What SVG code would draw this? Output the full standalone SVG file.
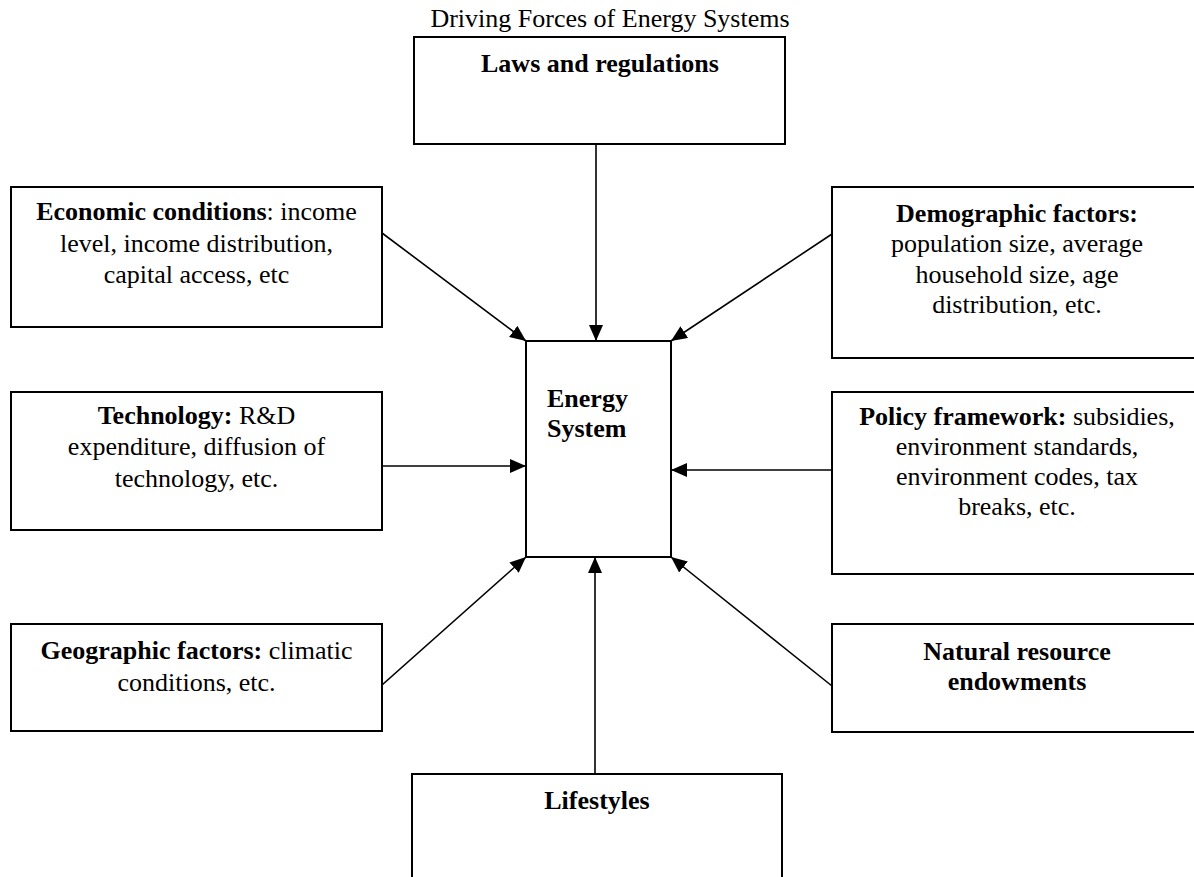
<svg xmlns="http://www.w3.org/2000/svg" width="1194" height="877" viewBox="0 0 1194 877">
<style>
  text { font-family: "Liberation Serif", "Times New Roman", serif; font-size: 26px; fill: #000; }
  .c { text-anchor: middle; }
  .b { font-weight: bold; }
  .box { fill: #fff; stroke: #000; stroke-width: 2; }
  .con { stroke: #000; stroke-width: 1.6; fill: none; marker-end: url(#arr); }
</style>
<defs>
  <marker id="arr" markerUnits="userSpaceOnUse" markerWidth="16" markerHeight="14" refX="16" refY="7" orient="auto">
    <path d="M0,0 L16,7 L0,14 z" fill="#000"/>
  </marker>
</defs>
<rect width="1194" height="877" fill="#fff"/>
<text class="c" x="610" y="27">Driving Forces of Energy Systems</text>

<g id="connectors">
  <line class="con" x1="596" y1="144" x2="596" y2="341"/>
  <line class="con" x1="382" y1="233" x2="526" y2="341"/>
  <line class="con" x1="832" y1="234" x2="671" y2="341"/>
  <line class="con" x1="382" y1="466" x2="526" y2="466"/>
  <line class="con" x1="832" y1="470" x2="671" y2="470"/>
  <line class="con" x1="382" y1="685" x2="526" y2="557"/>
  <line class="con" x1="832" y1="686" x2="671" y2="557"/>
  <line class="con" x1="595" y1="774" x2="595" y2="557"/>
</g>

<g id="laws">
  <rect class="box" x="414" y="37" width="371" height="107"/>
  <text class="c b" x="600" y="72">Laws and regulations</text>
</g>

<g id="economic">
  <rect class="box" x="11" y="187" width="371" height="140"/>
  <text class="c" x="196.5" y="220"><tspan class="b">Economic conditions</tspan>: income</text>
  <text class="c" x="196.5" y="252">level, income distribution,</text>
  <text class="c" x="196.5" y="283">capital access, etc</text>
</g>

<g id="demographic">
  <rect class="box" x="832" y="187" width="372" height="171"/>
  <text class="c b" x="1017" y="222">Demographic factors:</text>
  <text class="c" x="1017" y="252">population size, average</text>
  <text class="c" x="1017" y="283">household size, age</text>
  <text class="c" x="1017" y="313">distribution, etc.</text>
</g>

<g id="energy">
  <rect class="box" x="526" y="341" width="145" height="216"/>
  <text class="b" x="547" y="407">Energy</text>
  <text class="b" x="547" y="437">System</text>
</g>

<g id="technology">
  <rect class="box" x="11" y="392" width="371" height="138"/>
  <text class="c" x="196.5" y="424"><tspan class="b">Technology:</tspan> R&amp;D</text>
  <text class="c" x="196.5" y="455">expenditure, diffusion of</text>
  <text class="c" x="196.5" y="487">technology, etc.</text>
</g>

<g id="policy">
  <rect class="box" x="832" y="392" width="372" height="182"/>
  <text class="c" x="1017" y="425"><tspan class="b">Policy framework:</tspan> subsidies,</text>
  <text class="c" x="1017" y="455">environment standards,</text>
  <text class="c" x="1017" y="485">environment codes, tax</text>
  <text class="c" x="1017" y="515">breaks, etc.</text>
</g>

<g id="geographic">
  <rect class="box" x="11" y="624" width="371" height="107"/>
  <text class="c" x="196.5" y="659"><tspan class="b">Geographic factors:</tspan> climatic</text>
  <text class="c" x="196.5" y="691">conditions, etc.</text>
</g>

<g id="natural">
  <rect class="box" x="832" y="624" width="372" height="108"/>
  <text class="c b" x="1017" y="660">Natural resource</text>
  <text class="c b" x="1017" y="690">endowments</text>
</g>

<g id="lifestyles">
  <rect class="box" x="412" y="774" width="370" height="120"/>
  <text class="c b" x="597" y="809">Lifestyles</text>
</g>
</svg>
